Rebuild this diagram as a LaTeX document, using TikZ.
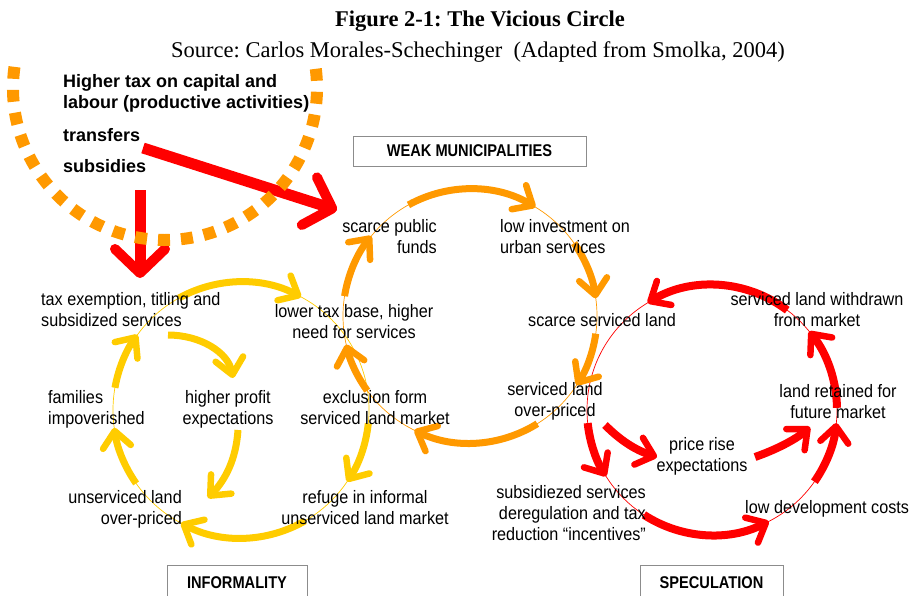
\documentclass[tikz,border=0pt]{standalone}
\usepackage{fontspec}
\setmainfont{Liberation Serif}
\newfontfamily\narrowsans[FakeStretch=0.9]{Liberation Sans}
\newfontfamily\boxsans[FakeStretch=0.86]{Liberation Sans}
\newfontfamily\plainsans{Liberation Sans}
\usetikzlibrary{arrows.meta}
\definecolor{yel}{HTML}{FFCC00}
\definecolor{ora}{HTML}{FF9900}
\definecolor{rd}{HTML}{FF0000}
\definecolor{boxgray}{HTML}{8C8C8C}
\newcommand\lines[2]{\begin{tabular}[t]{@{}#1@{}}#2\end{tabular}}
\frenchspacing
\begin{document}
\begin{tikzpicture}[x=1pt,y=-1pt,
  lab/.style={font=\narrowsans\fontsize{18}{21}\selectfont, inner sep=0pt},
  boldlab/.style={font=\plainsans\bfseries\fontsize{18}{21}\selectfont, inner sep=0pt, anchor=base west},
  boxlab/.style={font=\boxsans\bfseries\fontsize{17}{20}\selectfont, draw=boxgray, line width=1pt, inner sep=0pt},
  thinY/.style={draw=yel, line width=0.7pt},
  thinO/.style={draw=ora, line width=0.7pt},
  thinR/.style={draw=rd, line width=0.7pt},
  tipC/.style={-{Straight Barb[length=16pt,width=28pt,line width=6.5pt,round]}},
  arcY/.style={draw=yel, line width=7pt, tipC},
  arcO/.style={draw=ora, line width=7pt, tipC},
  arcR/.style={draw=rd, line width=8pt, tipC},
  bigR/.style={draw=rd, line width=11pt, -{Straight Barb[length=24pt,width=50pt,line width=10pt,round]}},
  dotO/.style={draw=ora, line width=12pt, dash pattern=on 12pt off 11pt}
]
\useasboundingbox (0,0) rectangle (909,595);

\coordinate (yc) at (241,410);
\coordinate (oc) at (470,316);
\coordinate (rc) at (712,410);
\coordinate (dc) at (165,88);

% thin circles
\draw[thinY] (yc) circle[radius=128];
\draw[thinO] (oc) circle[radius=127];
\draw[thinR] (rc) circle[radius=125];

% yellow circle arrows
\foreach \a/\b in {119/62,170/144,215/188,300/242,354/326}
  \draw[arcY] (yc) ++(-\a:128) arc[start angle=-\a,end angle=-\b,radius=128];
% orange circle arrows
\foreach \a/\b in {171/141,119/59,35/8,352/327,302/244,216/193}
  \draw[arcO] (oc) ++(-\a:127) arc[start angle=-\a,end angle=-\b,radius=127];
% red circle arrows
\foreach \a/\b in {53/121,1/39,325/354,237/297,186/212}
  \draw[arcR] (rc) ++(-\a:125) arc[start angle=-\a,end angle=-\b,radius=125];

% inner arrows
\coordinate (y1s) at (168,335); \coordinate (y1e) at (233,378);
\draw[arcY] (y1s) .. controls (200,335) and (228,352) .. (y1e);
\coordinate (y2s) at (238,430); \coordinate (y2e) at (208,498);
\draw[arcY] (y2s) .. controls (236,460) and (225,480) .. (y2e);
\coordinate (r1s) at (605,425); \coordinate (r1e) at (657,457);
\draw[arcR] (r1s) .. controls (620,440) and (635,450) .. (r1e);
\coordinate (r2s) at (755,457); \coordinate (r2e) at (810,427);
\draw[arcR] (r2s) .. controls (775,450) and (795,440) .. (r2e);

% top-left arrows
\coordinate (t1s) at (143,148); \coordinate (t1e) at (337,210);
\draw[bigR] (t1s) -- (t1e);
\coordinate (t2s) at (140,190); \coordinate (t2e) at (140,278);
\draw[bigR] (t2s) -- (t2e);

% dotted arc
\draw[dotO] (dc) ++(-172:152) arc[start angle=-172,end angle=-368,radius=152];

% titles
\node[font=\bfseries\fontsize{22.5}{26}\selectfont, anchor=base, inner sep=0pt] (title) at (480,26) {Figure 2-1: The Vicious Circle};
\node[font=\fontsize{22.5}{26}\selectfont, anchor=base, inner sep=0pt] (source) at (478,57) {Source: Carlos Morales-Schechinger\ \ (Adapted from Smolka, 2004)};

% top-left bold texts
\node[boldlab] (b1) at (63,87) {\lines{l}{Higher tax on capital and\\labour (productive activities)}};
\node[boldlab] (b2) at (63,141) {transfers};
\node[boldlab] (b3) at (63,172) {subsidies};

% boxes
\node[boxlab, minimum width=233, minimum height=30] (wm) at (469.5,151) {WEAK MUNICIPALITIES};
\node[boxlab, minimum width=140, minimum height=36] (inf) at (237,583) {INFORMALITY};
\node[boxlab, minimum width=143, minimum height=36] (spec) at (711.5,583) {SPECULATION};

% labels
\node[lab, anchor=base east] (l1) at (437,232) {\lines{r}{scarce public\\funds}};
\node[lab, anchor=base west] (l2) at (500,232) {\lines{l}{low investment on\\urban services}};
\node[lab, anchor=base west] (l3) at (528,326) {scarce serviced land};
\node[lab, anchor=base] (l4) at (555,395) {\lines{c}{serviced land\\over-priced}};
\node[lab, anchor=base] (l5) at (354,317) {\lines{c}{lower tax base, higher\\need for services}};
\node[lab, anchor=base] (l6) at (375,403) {\lines{c}{exclusion form\\serviced land market}};
\node[lab, anchor=base west] (l7) at (41,305) {\lines{l}{tax exemption, titling and\\subsidized services}};
\node[lab, anchor=base west] (l8) at (48,403) {\lines{l}{families\\impoverished}};
\node[lab, anchor=base] (l9) at (228,403) {\lines{c}{higher profit\\expectations}};
\node[lab, anchor=base east] (l10) at (182,503) {\lines{r}{unserviced land\\over-priced}};
\node[lab, anchor=base] (l11) at (365,503) {\lines{c}{refuge in informal\\unserviced land market}};
\node[lab, anchor=base] (l12) at (817,305) {\lines{c}{serviced land withdrawn\\from market}};
\node[lab, anchor=base] (l13) at (838,397) {\lines{c}{land retained for\\future market}};
\node[lab, anchor=base] (l14) at (702,450) {\lines{c}{price rise\\expectations}};
\node[lab, anchor=base east] (l15) at (646,498) {\lines{r}{subsidiezed services\\deregulation and tax\\reduction “incentives”}};
\node[lab, anchor=base west] (l16) at (745,513) {low development costs};
\end{tikzpicture}
\end{document}
